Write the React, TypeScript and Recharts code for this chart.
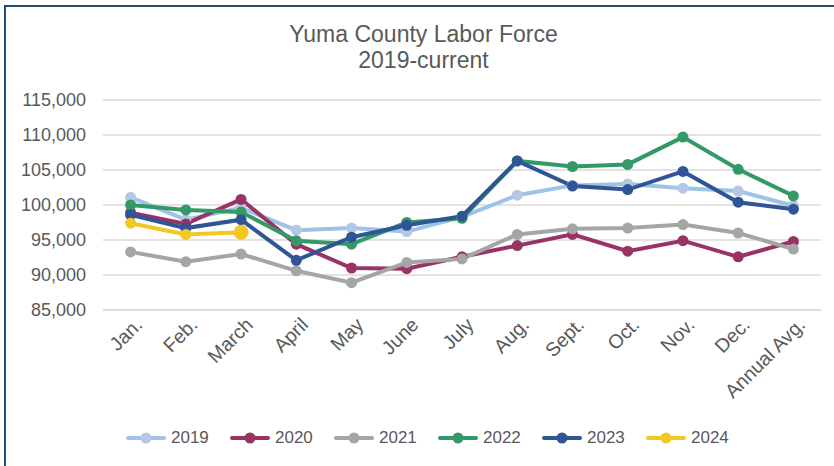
import { LineChart, Line, XAxis, YAxis, CartesianGrid, Legend } from "recharts"

const months = ["Jan.", "Feb.", "March", "April", "May", "June", "July", "Aug.", "Sept.", "Oct.", "Nov.", "Dec.", "Annual Avg."]

const y2019 = [101100, 97900, 99600, 96400, 96700, 96200, 98300, 101400, 102800, 103000, 102400, 102000, 99900]
const y2020 = [98900, 97300, 100800, 94400, 91000, 90900, 92600, 94200, 95800, 93400, 94900, 92600, 94800]
const y2021 = [93300, 91900, 93000, 90600, 88900, 91800, 92300, 95800, 96600, 96700, 97200, 96000, 93700]
const y2022 = [100000, 99300, 99000, 94900, 94400, 97500, 98100, 106300, 105500, 105800, 109700, 105100, 101300]
const y2023 = [98600, 96700, 97900, 92100, 95400, 97100, 98400, 106300, 102700, 102200, 104800, 100400, 99400]
const y2024 = [97400, 95800, 96100]

const yTicks = [85000, 90000, 95000, 100000, 105000, 110000, 115000]

const series = [
  { key: "2019", values: y2019, color: "#9DC3E6", dot: "#B4C7E7" },
  { key: "2020", values: y2020, color: "#993366", dot: "#993366" },
  { key: "2021", values: y2021, color: "#A5A5A5", dot: "#A5A5A5" },
  { key: "2022", values: y2022, color: "#339966", dot: "#339966" },
  { key: "2023", values: y2023, color: "#2F5597", dot: "#2F5597" },
  { key: "2024", values: y2024, color: "#F4C823", dot: "#F4C823" },
]

const data = months.map((m, i) => {
  const row: Record<string, string | number | null> = { month: m }
  series.forEach((s) => {
    row[s.key] = i < s.values.length ? s.values[i] : null
  })
  return row
})

const font = "'Liberation Sans', Arial, sans-serif"
const textColor = "#595959"

function MonthTick(props: any) {
  const { x, y, payload } = props
  const ax = x + 13
  const ay = y + 8
  return (
    <text
      x={ax}
      y={ay}
      transform={`rotate(-45, ${ax}, ${ay})`}
      textAnchor="end"
      fontSize={19.5}
      fontFamily={font}
      fill={textColor}
    >
      {payload.value}
    </text>
  )
}

function LegendRow() {
  return (
    <div style={{ display: "flex", alignItems: "center", paddingTop: 2, paddingLeft: 126, fontFamily: font }}>
      {series.map((s) => (
        <div key={s.key} style={{ display: "flex", alignItems: "center", width: 104 }}>
          <svg width={40} height={20}>
            <line x1={2} y1={10} x2={38} y2={10} stroke={s.color} strokeWidth={4} strokeLinecap="round" />
            <circle cx={20} cy={10} r={5.5} fill={s.dot} />
          </svg>
          <span style={{ fontSize: 17, color: textColor, marginLeft: 5 }}>{s.key}</span>
        </div>
      ))}
    </div>
  )
}

export default function App() {
  return (
    <div style={{ position: "absolute", left: 0, top: 0, width: 834, height: 466, overflow: "hidden", background: "#fff" }}>
      <div
        style={{
          position: "absolute",
          left: 4,
          top: 5,
          width: 900,
          height: 600,
          borderTop: "2px solid #1F4E79",
          borderLeft: "2px solid #1F4E79",
        }}
      />
      <div
        style={{
          position: "absolute",
          left: 0,
          top: 21,
          width: 847,
          textAlign: "center",
          fontFamily: font,
          fontSize: 23,
          lineHeight: "26px",
          color: textColor,
        }}
      >
        Yuma County Labor Force
        <br />
        2019-current
      </div>
      <div style={{ position: "absolute", left: 0, top: 0 }}>
        <LineChart width={834} height={466} data={data} margin={{ top: 100, right: 13, left: 0, bottom: 0 }}>
          <CartesianGrid vertical={false} stroke="#D9D9D9" strokeWidth={1.5} />
          <XAxis
            dataKey="month"
            height={116}
            interval={0}
            padding={{ left: 27.6, right: 27.6 }}
            axisLine={{ stroke: "#D9D9D9", strokeWidth: 1.5 }}
            tickLine={false}
            tick={<MonthTick />}
          />
          <YAxis
            domain={[85000, 115000]}
            ticks={yTicks}
            width={103}
            axisLine={false}
            tickLine={false}
            tickSize={0}
            tickMargin={17}
            tickFormatter={(v: number) => v.toLocaleString("en-US")}
            tick={{ fontSize: 18, fill: textColor, fontFamily: font }}
          />
          <Legend
            verticalAlign="bottom"
            height={40}
            wrapperStyle={{ left: 0, width: 834 }}
            content={() => <LegendRow />}
          />
          {series.map((s) => (
            <Line
              key={s.key}
              dataKey={s.key}
              stroke={s.color}
              strokeWidth={4}
              isAnimationActive={false}
              connectNulls={false}
              dot={(p: any) => {
                if (p.value == null) return <g key={`${s.key}-${p.index}`} />
                const big = s.key === "2024" && p.index === 2
                return <circle key={`${s.key}-${p.index}`} cx={p.cx} cy={p.cy} r={big ? 7.5 : 5.5} fill={s.dot} />
              }}
              activeDot={false}
            />
          ))}
        </LineChart>
      </div>
    </div>
  )
}
